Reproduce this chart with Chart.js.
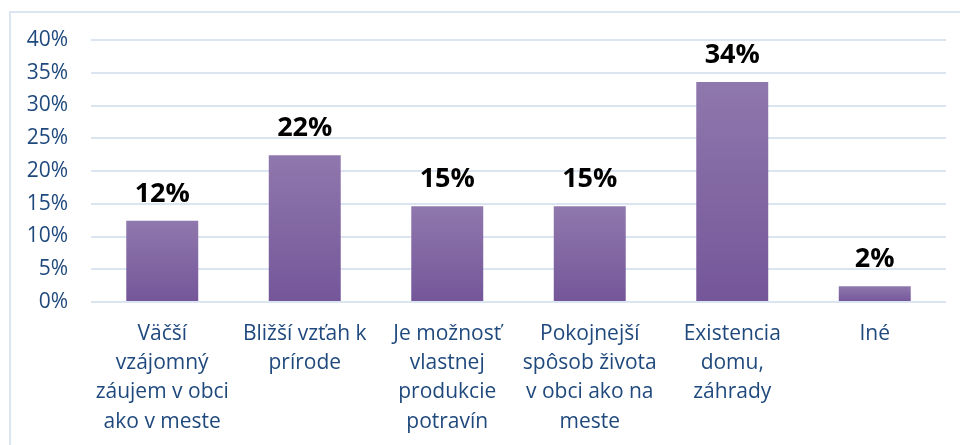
<!DOCTYPE html>
<html>
<head>
<meta charset="utf-8">
<script src="https://cdn.jsdelivr.net/npm/chart.js@4/dist/chart.umd.min.js"></script>
<style>
  html, body { margin: 0; padding: 0; background: #fff; overflow: hidden; }
  #wrap { position: relative; width: 960px; height: 445px; }
  #frame { position: absolute; left: 9px; top: 11px; width: 1000px; height: 500px;
           border-top: 2px solid #dce6f2; border-left: 2px solid #dce6f2; box-sizing: border-box; }
  canvas { position: absolute; left: 0; top: 0; }
</style>
</head>
<body>
<div id="wrap">
  <div id="frame"></div>
  <canvas id="c" width="960" height="445"></canvas>
</div>
<script>
const categories = [
  ["Väčší", "vzájomný", "záujem v obci", "ako v meste"],
  ["Bližší vzťah k", "prírode"],
  ["Je možnosť", "vlastnej", "produkcie", "potravín"],
  ["Pokojnejší", "spôsob života", "v obci ako na", "meste"],
  ["Existencia", "domu,", "záhrady"],
  ["Iné"]
];
const values = [12.4, 22.4, 14.6, 14.6, 33.6, 2.4];
const yTicks = [0, 5, 10, 15, 20, 25, 30, 35, 40];

const FONT = "'Open Sans', 'DejaVu Sans', sans-serif";

const dataLabelPlugin = {
  id: 'dataLabels',
  afterDatasetsDraw(chart) {
    const ctx = chart.ctx;
    const meta = chart.getDatasetMeta(0);
    ctx.save();
    ctx.font = "bold 27px " + FONT;
    ctx.fillStyle = '#000';
    ctx.textAlign = 'center';
    ctx.textBaseline = 'alphabetic';
    meta.data.forEach((el, i) => {
      ctx.fillText(Math.round(values[i]) + '%', el.x, el.y - 19);
    });
    ctx.restore();
  }
};

new Chart(document.getElementById('c'), {
  type: 'bar',
  data: {
    labels: categories,
    datasets: [{
      data: values,
      backgroundColor(context) {
        const chart = context.chart;
        const y = chart.scales.y;
        if (!y || !chart.chartArea) return '#7f62a3';
        const top = y.getPixelForValue(context.raw);
        const base = y.getPixelForValue(0);
        if (!isFinite(top) || !isFinite(base) || top === base) return '#7f62a3';
        const g = chart.ctx.createLinearGradient(0, top, 0, base);
        g.addColorStop(0, '#8f78ad');
        g.addColorStop(1, '#745699');
        return g;
      },
      borderWidth: 0,
      categoryPercentage: 1,
      barPercentage: 0.505
    }]
  },
  options: {
    responsive: false,
    animation: false,
    devicePixelRatio: 1,
    layout: { padding: { top: 40, right: 14, bottom: 0, left: 0 } },
    plugins: { legend: { display: false }, tooltip: { enabled: false } },
    scales: {
      x: {
        grid: { display: false, drawTicks: false },
        border: { display: false },
        ticks: {
          color: '#1F497D',
          font: { family: FONT, size: 21, lineHeight: 1.4 },
          padding: 17,
          maxRotation: 0,
          autoSkip: false
        },
        afterFit(scale) { scale.height = 143; }
      },
      y: {
        min: 0, max: 40,
        afterBuildTicks(scale) { scale.ticks = yTicks.map(v => ({ value: v })); },
        grid: { color: '#dbe5f1', lineWidth: 2, drawTicks: false },
        border: { display: false },
        ticks: {
          color: '#1F497D',
          font: { family: FONT, size: 21 },
          padding: 23,
          callback: v => v + '%'
        },
        afterFit(scale) { scale.width = 91; }
      }
    }
  },
  plugins: [dataLabelPlugin]
});
</script>
</body>
</html>
